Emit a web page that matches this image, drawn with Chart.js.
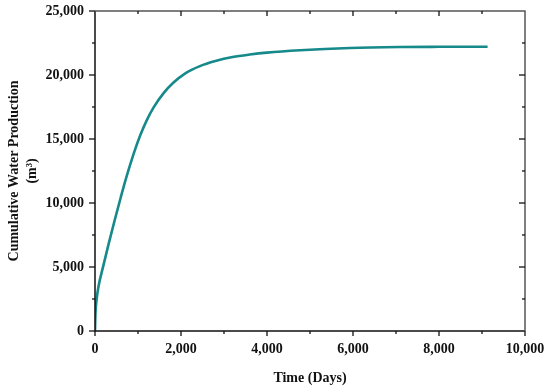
<!DOCTYPE html>
<html><head><meta charset="utf-8">
<script src="https://cdn.jsdelivr.net/npm/chart.js@4"></script>
<style>html,body{margin:0;padding:0;background:#fff}#w{width:550px;height:387px;position:relative}</style>
</head><body><div id="w"><canvas id="c"></canvas></div>
<script>
const days  = [0, 10, 35, 80, 190, 320, 465, 600, 740, 900, 1050, 1200, 1360, 1600, 1820, 2100, 2440, 2800, 3200, 3600, 4000, 4770, 5930, 7090, 8000, 9130];
const water = [0, 1300, 2400, 3450, 5050, 6850, 8750, 10450, 12130, 13860, 15270, 16440, 17450, 18600, 19390, 20130, 20690, 21085, 21400, 21600, 21750, 21935, 22110, 22185, 22203, 22210];
const xLabels = [0, 2000, 4000, 6000, 8000, 10000];
const yLabels = [0, 5000, 10000, 15000, 20000, 25000];
const xTitle = 'Time (Days)';
const yTitle = ['Cumulative Water Production', '(m\u00B3)'];

const FONT = '"Liberation Serif", "Times New Roman", serif';
const fmt = v => v.toLocaleString('en-US');

const framePlugin = {
  id: 'frame',
  afterDraw(chart) {
    const {ctx, chartArea: a, scales: {x, y}} = chart;
    ctx.save();
    ctx.lineCap = 'butt';
    ctx.strokeStyle = '#111'; ctx.lineWidth = 1.5;
    ctx.beginPath();
    ctx.moveTo(a.left, a.top); ctx.lineTo(a.left, a.bottom); ctx.lineTo(a.right, a.bottom);
    ctx.stroke();
    ctx.strokeStyle = '#555';
    ctx.beginPath();
    ctx.moveTo(a.left, a.top); ctx.lineTo(a.right, a.top); ctx.lineTo(a.right, a.bottom);
    ctx.stroke();
    ctx.lineWidth = 1.3;
    ctx.strokeStyle = '#111';
    x.ticks.forEach(t => {
      const px = x.getPixelForValue(t.value);
      const major = xLabels.includes(t.value);
      const L = major ? 5 : 3;
      ctx.beginPath(); ctx.moveTo(px, a.bottom); ctx.lineTo(px, a.bottom + L); ctx.stroke();
      if (t.value > x.min && t.value < x.max) {
        ctx.beginPath(); ctx.moveTo(px, a.top); ctx.lineTo(px, a.top + L); ctx.stroke();
      }
    });
    y.ticks.forEach(t => {
      const py = y.getPixelForValue(t.value);
      const major = yLabels.includes(t.value);
      const L = major ? 6 : 3;
      ctx.beginPath(); ctx.moveTo(a.left, py); ctx.lineTo(a.left - L, py); ctx.stroke();
      if (t.value > y.min && t.value < y.max) {
        ctx.beginPath(); ctx.moveTo(a.right, py); ctx.lineTo(a.right - L, py); ctx.stroke();
      }
    });
    ctx.restore();
  }
};

new Chart(document.getElementById('c'), {
  type: 'line',
  data: {
    datasets: [{
      data: days.map((d, i) => ({x: d, y: water[i]})),
      borderColor: '#16898a',
      borderWidth: 2.6,
      pointRadius: 0,
      fill: false,
      cubicInterpolationMode: 'monotone'
    }]
  },
  options: {
    responsive: true,
    maintainAspectRatio: false,
    animation: false,
    layout: {padding: {top: 11, right: 25, left: 5, bottom: 0}},
    plugins: {legend: {display: false}, tooltip: {enabled: false}},
    scales: {
      x: {
        type: 'linear', min: 0, max: 10000,
        afterFit(s) { s.height = 56; s.paddingLeft = 0; s.paddingRight = 0; },
        grid: {display: false, drawTicks: false},
        border: {display: false},
        ticks: {
          stepSize: 1000, autoSkip: false, maxRotation: 0, padding: 10,
          color: '#111', font: {family: FONT, size: 14, weight: 'bold'},
          callback: v => xLabels.includes(v) ? fmt(v) : ''
        },
        title: {display: true, text: xTitle, color: '#111', padding: {top: 2, bottom: 0},
          font: {family: FONT, size: 14, weight: 'bold'}}
      },
      y: {
        type: 'linear', min: 0, max: 25000,
        afterFit(s) { s.width = 90; s.paddingTop = 0; s.paddingBottom = 0; },
        grid: {display: false, drawTicks: false},
        border: {display: false},
        ticks: {
          stepSize: 2500, autoSkip: false, padding: 11,
          color: '#111', font: {family: FONT, size: 14, weight: 'bold'},
          callback: v => yLabels.includes(v) ? fmt(v) : ''
        },
        title: {display: true, text: yTitle, color: '#111', padding: {top: 0, bottom: 0},
          font: {family: FONT, size: 14, weight: 'bold', lineHeight: 1.3}}
      }
    }
  },
  plugins: [framePlugin]
});
</script></body></html>
